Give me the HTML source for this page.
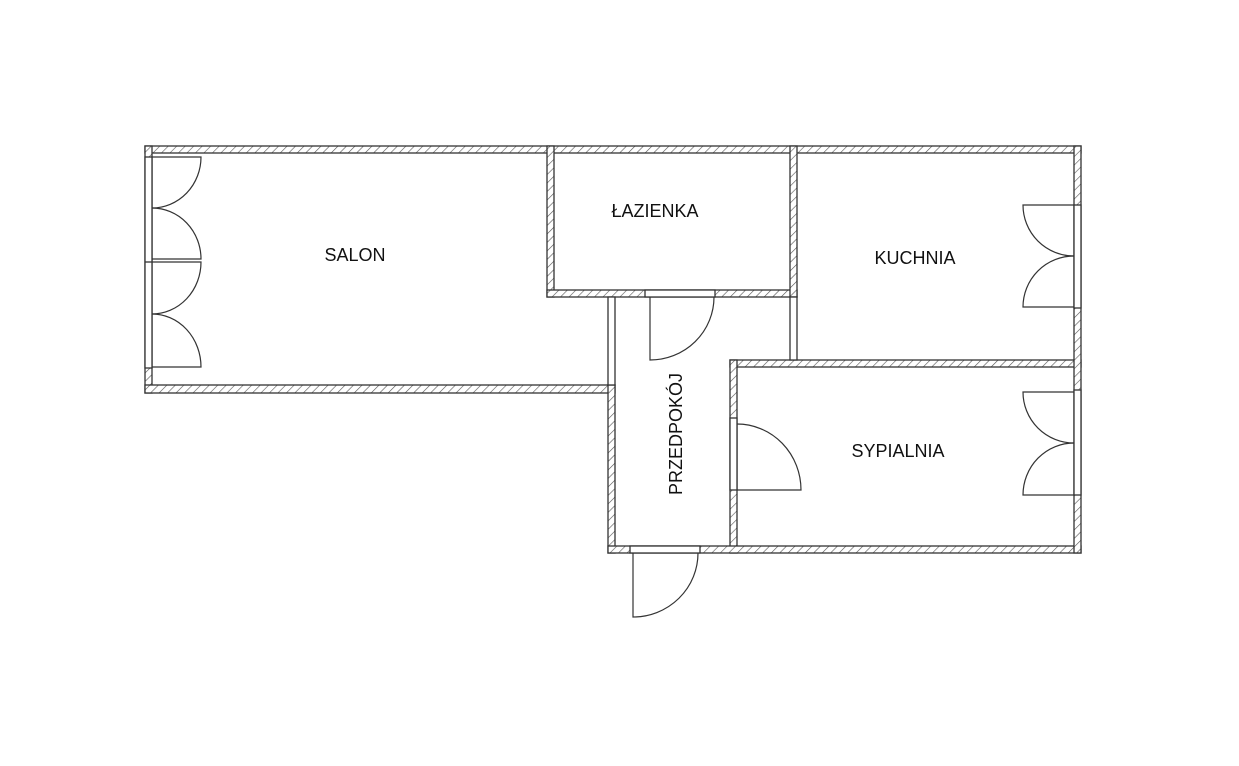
<!DOCTYPE html>
<html><head><meta charset="utf-8"><style>
html,body{margin:0;padding:0;background:#fff;}
svg{display:block}
text{font-family:"Liberation Sans",sans-serif;font-size:18px;fill:#111}
</style></head><body>
<svg width="1239" height="766" viewBox="0 0 1239 766" xmlns="http://www.w3.org/2000/svg">
<defs>
<pattern id="h" patternUnits="userSpaceOnUse" width="6" height="6" patternTransform="rotate(45)">
<rect width="6" height="6" fill="#fff"/><line x1="0" y1="0" x2="0" y2="6" stroke="#555" stroke-width="1.2"/>
</pattern>
</defs>
<g fill="url(#h)" stroke="#333" stroke-width="1.3">
<rect x="145" y="146" width="936" height="7"/>
<rect x="145" y="146" width="7" height="247"/>
<rect x="145" y="385" width="470" height="8"/>
<rect x="608" y="385" width="7" height="168"/>
<rect x="547" y="146" width="7" height="151"/>
<rect x="547" y="290" width="250" height="7"/>
<rect x="790" y="146" width="7" height="151"/>
<rect x="730" y="360" width="351" height="7"/>
<rect x="730" y="360" width="7" height="193"/>
<rect x="608" y="546" width="473" height="7"/>
<rect x="1074" y="146" width="7" height="407"/>
</g>
<g fill="#fff" stroke="#333" stroke-width="1.3">
<rect x="145" y="157" width="7" height="211"/>
<line x1="145" y1="262" x2="152" y2="262"/>
<rect x="608" y="297" width="7" height="88"/>
<rect x="645" y="290" width="70" height="7"/>
<rect x="790" y="297" width="7" height="63"/>
<rect x="730" y="418" width="7" height="72"/>
<rect x="630" y="546" width="70" height="7"/>
<rect x="1074" y="205" width="7" height="103"/>
<rect x="1074" y="390" width="7" height="105"/>
</g>
<g fill="none" stroke="#333" stroke-width="1.2">
<path d="M152 157 H201 A49 51 0 0 1 152 208"/>
<path d="M152 259 H201 A49 51 0 0 0 152 208"/>
<path d="M152 262 H201 A49 52 0 0 1 152 314"/>
<path d="M152 367 H201 A49 53 0 0 0 152 314"/>
<path d="M1074 205 H1023 A51 51 0 0 0 1074 256"/>
<path d="M1074 307 H1023 A51 51 0 0 1 1074 256"/>
<path d="M1074 392 H1023 A51 51 0 0 0 1074 443"/>
<path d="M1074 495 H1023 A51 52 0 0 1 1074 443"/>
<path d="M650 297 V360 A64 63 0 0 0 714 297"/>
<path d="M737 490 H801 A64 66 0 0 0 737 424"/>
<path d="M633 553 V617 A65 64 0 0 0 698 553"/>
</g>
<text x="355" y="261" text-anchor="middle">SALON</text>
<text x="655" y="217" text-anchor="middle">ŁAZIENKA</text>
<text x="915" y="264" text-anchor="middle">KUCHNIA</text>
<text x="898" y="457" text-anchor="middle">SYPIALNIA</text>
<text x="0" y="0" text-anchor="middle" transform="translate(682,434) rotate(-90)">PRZEDPOKÓJ</text>
</svg>
</body></html>
